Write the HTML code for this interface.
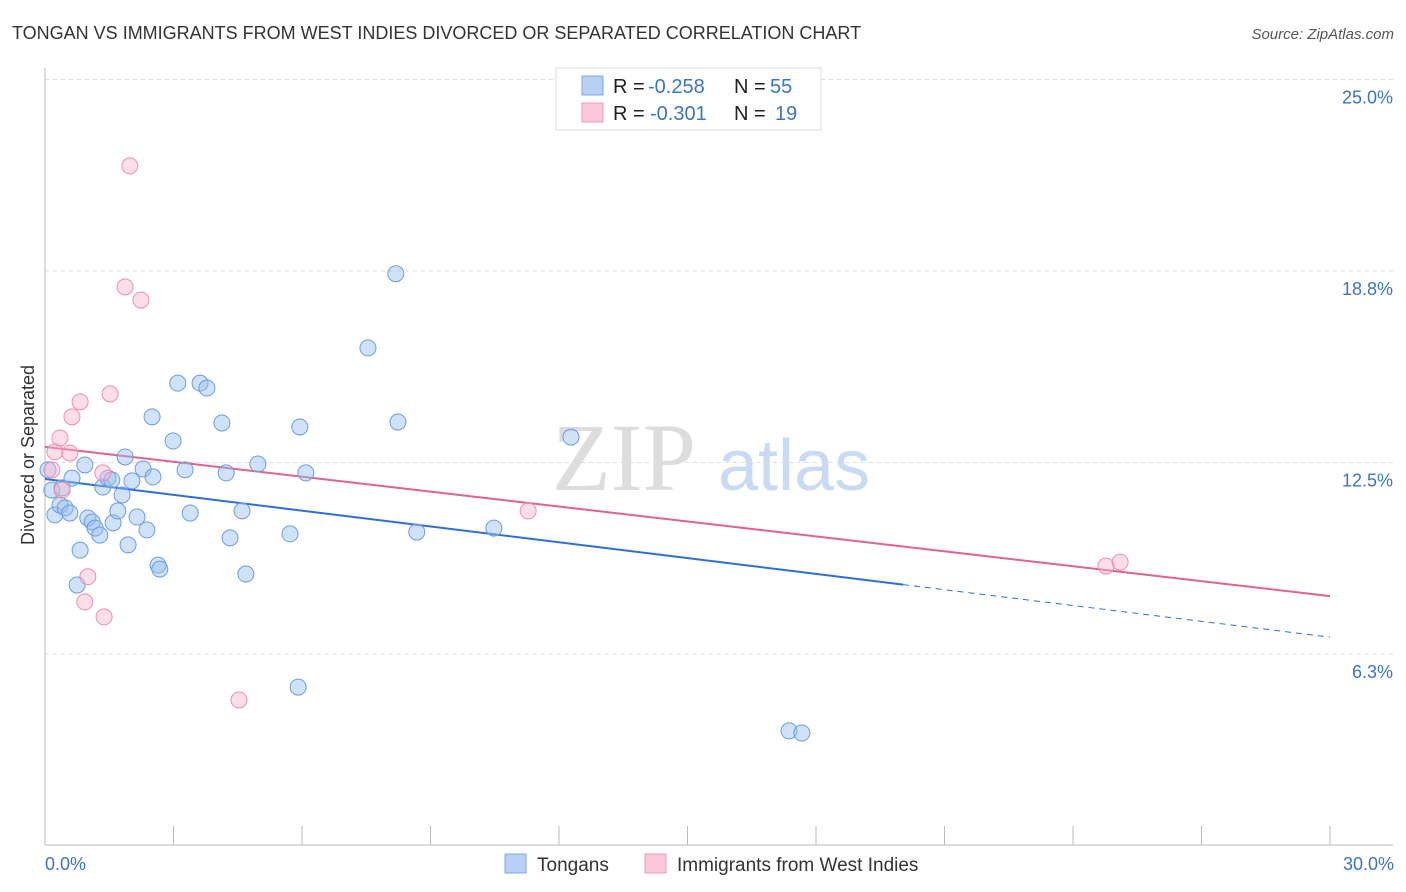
<!DOCTYPE html>
<html><head><meta charset="utf-8"><style>
body{margin:0;background:#fff;font-family:"Liberation Sans",sans-serif;}
svg{display:block}
</style></head><body>
<svg id="chart" width="1406" height="892" xmlns="http://www.w3.org/2000/svg">
<text x="12" y="39" font-size="18" fill="#333">TONGAN VS IMMIGRANTS FROM WEST INDIES DIVORCED OR SEPARATED CORRELATION CHART</text>
<text x="1394" y="39" font-size="15" font-style="italic" fill="#555" text-anchor="end">Source: ZipAtlas.com</text>
<g>
<text x="552" y="490" font-family="Liberation Serif,serif" font-size="96" fill="#ddd">ZIP</text>
<text x="718" y="490" font-size="72" fill="#c9dbf2">atlas</text>
</g>
<g id="grid"></g><g id="axes"></g><g id="trend"></g><g id="points"></g>
<text transform="translate(34,455) rotate(-90)" font-size="18" fill="#333" text-anchor="middle">Divorced or Separated</text>
<text x="45" y="870" font-size="18" fill="#3a75c4">0.0%</text>
<text x="1394" y="870" font-size="18" fill="#3a75c4" text-anchor="end">30.0%</text>
<g>
<rect x="556" y="68" width="265" height="62" fill="#fff" stroke="#ddd"/>
<rect x="582" y="76" width="21" height="19" fill="#b7d0f5" stroke="#7fa6e0"/>
<rect x="582" y="103" width="21" height="19" fill="#fbc8d8" stroke="#ec9ab5"/>
<text x="613" y="93" font-size="20" fill="#222">R =</text>
<text x="648" y="93" font-size="20" fill="#3a75c4">-0.258</text>
<text x="734" y="93" font-size="20" fill="#222">N =</text>
<text x="770" y="93" font-size="20" fill="#3a75c4">55</text>
<text x="613" y="120" font-size="20" fill="#222">R =</text>
<text x="650" y="120" font-size="20" fill="#3a75c4">-0.301</text>
<text x="734" y="120" font-size="20" fill="#222">N =</text>
<text x="775" y="120" font-size="20" fill="#3a75c4">19</text>
</g>
<g>
<rect x="505" y="854" width="21" height="19" fill="#b7d0f5" stroke="#7fa6e0"/>
<text x="537" y="871" font-size="19" fill="#333">Tongans</text>
<rect x="645" y="854" width="21" height="19" fill="#fbc8d8" stroke="#ec9ab5"/>
<text x="677" y="871" font-size="19" fill="#333">Immigrants from West Indies</text>
</g>
</svg>
<script>
const yTicks=[6.25,12.5,18.75,25];
const yTickLabels=["6.3%","12.5%","18.8%","25.0%"];
const xTicks=[0,3,6,9,12,15,18,21,24,27,30];
const tonganX=[0.16,0.23,0.35,0.40,0.47,0.58,0.63,0.82,0.93,1.00,1.10,1.17,1.28,1.35,1.47,1.56,1.59,1.70,1.80,1.87,1.94,2.03,2.15,2.29,2.38,2.52,2.64,2.68,2.99,3.10,3.27,3.39,3.62,3.78,2.50,4.13,4.23,4.32,4.60,4.69,4.97,5.72,5.91,5.95,6.09,7.54,8.19,8.24,8.68,10.48,12.28,17.37,17.67,0.75,0.07];
const tonganY=[11.60,10.79,11.11,11.67,11.02,10.85,11.99,9.64,12.42,10.69,10.56,10.36,10.13,11.70,11.99,11.93,10.53,10.92,11.44,12.68,9.81,11.90,10.72,12.29,10.30,12.03,9.15,9.02,13.20,15.09,12.26,10.85,15.09,14.93,13.99,13.79,12.16,10.04,10.92,8.86,12.45,10.17,5.17,13.66,12.16,16.24,18.66,13.82,10.23,10.36,13.33,3.74,3.67,8.50,12.26];
const wiX=[0.16,0.23,0.35,0.40,0.58,0.63,0.82,1.00,0.93,1.35,1.38,1.52,1.87,1.98,2.24,4.53,11.28,24.77,25.10];
const wiY=[12.26,12.85,13.30,11.60,12.81,13.99,14.48,8.77,7.95,12.16,7.46,14.74,18.23,22.18,17.80,4.75,10.92,9.12,9.25];
const tonganTrend=[11.96,6.80]; const tonganSolidEnd=20.03;
const wiTrend=[13.01,8.14];
const NS="http://www.w3.org/2000/svg";
const X=v=>45+v/30*1285, Y=v=>845.5-v*30.64;
function mk(t,a,p){const e=document.createElementNS(NS,t);for(const k in a)e.setAttribute(k,a[k]);document.getElementById(p).appendChild(e);return e;}
yTicks.forEach((t,i)=>{
 const g=mk('line',{x1:45,x2:1393,y1:Y(t),y2:Y(t),stroke:'#ddd','stroke-dasharray':'4,4'},'grid');
 
 
 const l=mk('text',{x:1393,y:Y(t)+24,'font-size':18,fill:'#3a75c4','text-anchor':'end'},'grid');
 l.textContent=yTickLabels[i];
 
 
});
let a=mk('line',{x1:45,x2:45,y1:68,y2:845,stroke:'#bbb'},'axes');


a=mk('line',{x1:45,x2:1393,y1:845,y2:845,stroke:'#bbb'},'axes');


xTicks.forEach(t=>{if(t===0)return;
 const k=mk('line',{x1:X(t),x2:X(t),y1:826,y2:845,stroke:'#bbb'},'axes');
 
 
});
let tl=mk('line',{x1:X(0),y1:Y(tonganTrend[0]),x2:X(tonganSolidEnd),y2:Y(tonganTrend[0]+(tonganTrend[1]-tonganTrend[0])*tonganSolidEnd/30),stroke:'#2d6fd6','stroke-width':2},'trend');


tl=mk('line',{x1:X(tonganSolidEnd),y1:Y(tonganTrend[0]+(tonganTrend[1]-tonganTrend[0])*tonganSolidEnd/30),x2:X(30),y2:Y(tonganTrend[1]),stroke:'#2d6fd6','stroke-width':1,'stroke-dasharray':'6,5'},'trend');


tl=mk('line',{x1:X(0),y1:Y(wiTrend[0]),x2:X(30),y2:Y(wiTrend[1]),stroke:'#e0628e','stroke-width':2},'trend');


tonganX.forEach((v,i)=>{
 const c=mk('circle',{cx:X(v),cy:Y(tonganY[i]),r:8,fill:'rgba(150,190,240,0.45)',stroke:'#6d9be0','stroke-width':1},'points');
 
 
});
wiX.forEach((v,i)=>{
 const c=mk('circle',{cx:X(v),cy:Y(wiY[i]),r:8,fill:'rgba(248,180,205,0.45)',stroke:'#e890b0','stroke-width':1},'points');
 
 
});
</script>
</body></html>
